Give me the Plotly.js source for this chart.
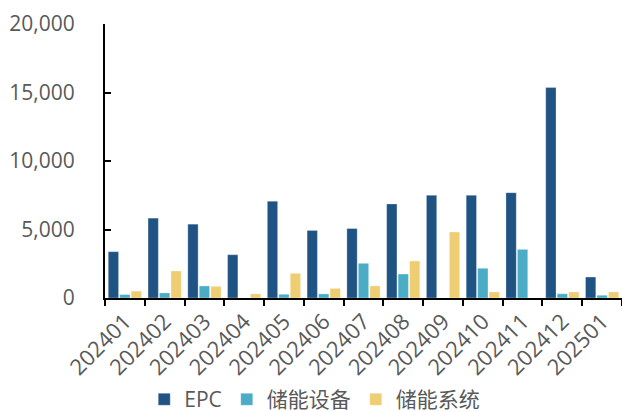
<!DOCTYPE html>
<html>
<head>
<meta charset="utf-8">
<script src="https://cdn.plot.ly/plotly-3.0.1.min.js"></script>
<style>html,body{margin:0;padding:0;background:#fff;}#chart{width:622px;height:412px;}</style>
</head>
<body>
<div id="chart"></div>
<script>
const months = ['202401','202402','202403','202404','202405','202406','202407','202408','202409','202410','202411','202412','202501'];
const epc = [3380, 5830, 5390, 3160, 7070, 4930, 5070, 6870, 7500, 7500, 7690, 15360, 1530];
const storageEquip = [250, 370, 880, 0, 270, 300, 2530, 1750, 0, 2170, 3550, 310, 200];
const storageSystem = [500, 1970, 850, 300, 1800, 700, 880, 2700, 4820, 440, 0, 440, 440];
const seriesNames = ['EPC', '储能设备', '储能系统'];
const colors = ['#1F5384', '#4BACC6', '#EFCD73'];
const yTicks = [0, 5000, 10000, 15000, 20000];
const yTickText = ['0', '5,000', '10,000', '15,000', '20,000'];

const font = 'Open Sans, Noto Sans CJK SC, sans-serif';
const vals = [epc, storageEquip, storageSystem];
const traces = vals.map((v, i) => ({
  type: 'bar', x: months, y: v, name: seriesNames[i],
  marker: {color: colors[i], line: {color: 'rgba(255,255,255,0.5)', width: 0.6}},
  hoverinfo: 'x+y+name'
}));

const layout = {
  width: 622, height: 412,
  margin: {l: 105, r: 0, t: 24, b: 114},
  paper_bgcolor: '#fff', plot_bgcolor: '#fff',
  font: {family: font, size: 21, color: '#595959'},
  barmode: 'group', bargap: 0.135, bargroupgap: 0.1,
  showlegend: true,
  legend: {orientation: 'h', xref: 'container', yref: 'container', x: 0.506, xanchor: 'center', y: 0.03, yanchor: 'middle',
           font: {family: font, size: 21, color: '#595959'}, itemwidth: 30, traceorder: 'normal'},
  xaxis: {type: 'category', showline: true, linecolor: '#000', linewidth: 2, ticks: 'outside', ticklen: 6, tickcolor: '#000', tickwidth: 2,
          tickson: 'boundaries', tickangle: -45, showgrid: false, zeroline: false, fixedrange: true,
          tickfont: {family: font, size: 22, color: '#595959'}},
  yaxis: {range: [0, 20000], tickvals: yTicks, ticktext: yTickText, showline: true, linecolor: '#000', linewidth: 2,
          ticks: 'inside', ticklen: 6, tickcolor: '#000', tickwidth: 2, showgrid: false, zeroline: false, fixedrange: true,
          ticklabelstandoff: 24, tickfont: {family: font, size: 21, color: '#595959'}}
};
Plotly.newPlot('chart', traces, layout, {displayModeBar: false, staticPlot: true});
</script>
</body>
</html>
